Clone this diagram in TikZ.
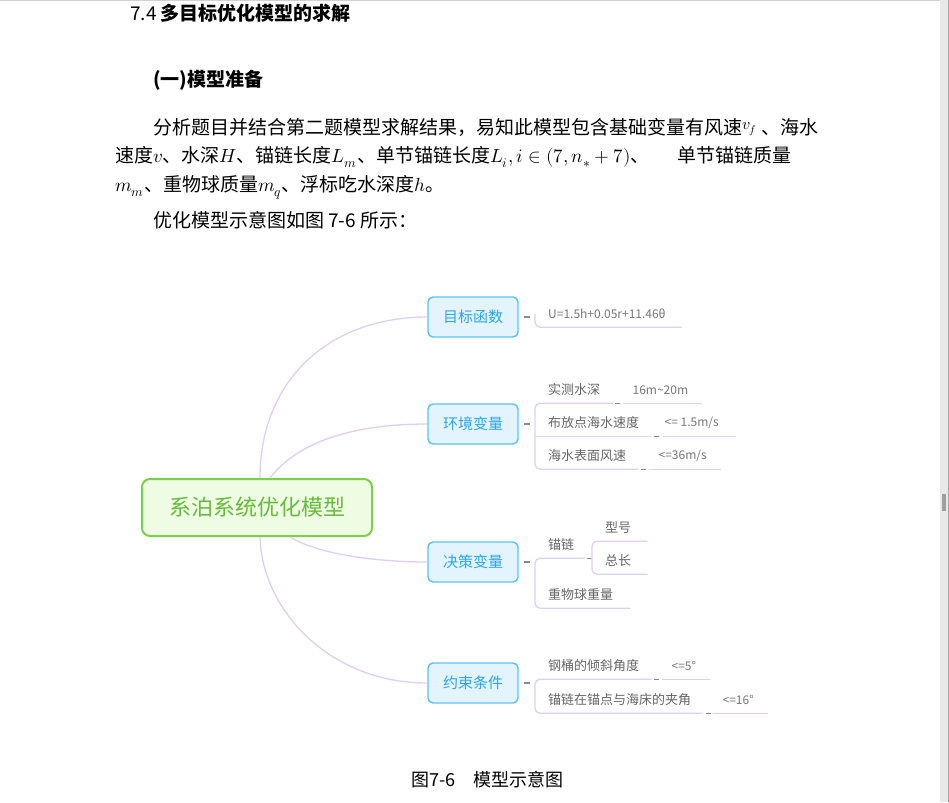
\documentclass[tikz,border=0pt]{standalone}
\usepackage{fontspec}
\usepackage{unicode-math}
\setmainfont{Noto Sans CJK SC}
\setmathfont{Latin Modern Math}
\usetikzlibrary{positioning}

\definecolor{linkpurple}{HTML}{E0CFF2}
\definecolor{branchfill}{HTML}{E3F4FE}
\definecolor{branchdraw}{HTML}{5BC2F9}
\definecolor{branchtext}{HTML}{2BA6EE}
\definecolor{rootfill}{HTML}{EEFCE4}
\definecolor{rootdraw}{HTML}{7AD047}
\definecolor{roottext}{HTML}{66BB3A}
\definecolor{leaftext}{HTML}{666666}
\definecolor{valuetext}{HTML}{777777}
\definecolor{tickgray}{HTML}{8A8A8A}

\begin{document}
\begin{tikzpicture}[x=1pt, y=-1pt,
    root/.style={draw=rootdraw, fill=rootfill, line width=2pt, rounded corners=8pt, minimum width=230pt, minimum height=57pt, text=roottext, font=\fontsize{22}{26}\selectfont},
    branch/.style={draw=branchdraw, fill=branchfill, line width=1.4pt, rounded corners=5pt, minimum width=90pt, minimum height=40pt, text=branchtext, font=\fontsize{15}{18}\selectfont},
    leaf/.style={anchor=west, inner xsep=0pt, inner ysep=0pt, minimum height=26pt, text=leaftext, font=\fontsize{13}{15}\selectfont},
    value/.style={leaf, text=valuetext, font=\fontsize{12}{14}\selectfont},
    link/.style={draw=linkpurple, line width=1.3pt},
    tick/.style={draw=tickgray, line width=1.2pt},
    body/.style={anchor=base west, inner sep=0pt, font=\fontsize{19}{23}\selectfont}
]
    \useasboundingbox (0,0) rectangle (949,802);
    % Page
    \fill[white] (0,0) rectangle (949,802);
    \draw[gray!35, line width=1pt] (0,0.5) -- (940,0.5);
    \fill[gray!18] (940,0) rectangle (948,802);
    \fill[gray!70] (948,0) rectangle (949,802);
    \fill[gray!75] (942,494) rectangle (946,511);

    % Text
    \node[body, font=\fontsize{19}{23}\selectfont\bfseries] (title) at (130,21) {{\mdseries 7.4} 多目标优化模型的求解};
    \node[body, font=\fontsize{19}{23}\selectfont\bfseries] (prep) at (153,87) {(一)模型准备};
    \node[body] (para1) at (153,135) {分析题目并结合第二题模型求解结果，易知此模型包含基础变量有风速\raisebox{5pt}{\fontsize{16}{18}\selectfont$v_f$} 、海水};
    \node[body] (para2) at (115,163) {速度$v$、水深$H$、锚链长度$L_m$、单节锚链长度$L_i,i\in(7,n_*+7)$、\hspace{28pt}单节锚链质量};
    \node[body] (para3) at (115,192) {$m_m$、重物球质量$m_q$、浮标吃水深度$h$。};
    \node[body] (para4) at (153,228) {优化模型示意图如图 7-6 所示：};
    \node[body, font=\fontsize{18}{22}\selectfont] (caption) at (411,786) {图7-6\hspace{18pt}模型示意图};

    % Blocks
    \node[root] (root) at (257,507.5) {系泊系统优化模型};
    \node[branch] (goal) at (473,317) {目标函数};
    \node[branch] (env) at (473,424) {环境变量};
    \node[branch] (dec) at (473,562) {决策变量};
    \node[branch] (cons) at (473,683) {约束条件};

    \node[value] (ufun) at (548,314) {U=1.5h+0.05r+11.46θ};

    \node[leaf] (depth) at (548,390) {实测水深};
    \node[leaf] (sea) at (548,423) {布放点海水速度};
    \node[leaf] (wind) at (548,456) {海水表面风速};
    \node[value, right=32pt of depth] (depthv) {16m\textasciitilde 20m};
    \node[value, right=25pt of sea] (seav) {<= 1.5m/s};
    \node[value, right=32pt of wind] (windv) {<=36m/s};

    \node[leaf] (chain) at (548,545) {锚链};
    \node[leaf] (ball) at (548,595) {重物球重量};
    \node[leaf] (type) at (605,528) {型号};
    \node[leaf] (len) at (605,561) {总长};

    \node[leaf] (tilt) at (548,666) {钢桶的倾斜角度};
    \node[leaf] (angle) at (548,700) {锚链在锚点与海床的夹角};
    \node[value, right=32pt of tilt] (tiltv) {<=5°};
    \node[value, right=31pt of angle] (anglev) {<=16°};

    % Curves from the root
    \draw[link] ([xshift=3pt]root.north) .. controls +(0,-98) and +(-98,0) .. (goal.west);
    \draw[link] ([xshift=13pt]root.north) .. controls +(30,-39) and +(-68,0) .. (env.west);
    \draw[link] ([xshift=33pt]root.south) .. controls +(30,18) and +(-48,0) .. (dec.west);
    \draw[link] ([xshift=3pt]root.south) .. controls +(2,73) and +(-98,0) .. (cons.west);

    % Ticks
    \draw[tick] ([xshift=5pt]goal.east) -- +(6,0);
    \draw[tick] ([xshift=5pt]env.east) -- +(6,0);
    \draw[tick] ([xshift=5pt]dec.east) -- +(6,0);
    \draw[tick] ([xshift=5pt]cons.east) -- +(6,0);
    \draw[tick] ([xshift=15pt]depth.south east) -- +(5,0);
    \draw[tick] ([xshift=15pt]sea.south east) -- +(5,0);
    \draw[tick] ([xshift=15pt]wind.south east) -- +(5,0);
    \draw[tick] ([xshift=13pt]chain.south east) -- +(5,0);
    \draw[tick] ([xshift=15pt]tilt.south east) -- +(5,0);
    \draw[tick] ([xshift=15pt]angle.south east) -- +(5,0);

    % Brackets
    \draw[link, rounded corners=5pt] ([xshift=-13pt]ufun.west) -- ([xshift=-13pt]ufun.south west) -- ([xshift=16pt]ufun.south east);
    \draw[link, rounded corners=5pt] ([xshift=13pt]depth.south east) -- ([xshift=-13pt]depth.south west) -- ([xshift=-13pt]wind.south west) -- ([xshift=12pt]wind.south east);
    \draw[link] ([xshift=-13pt]sea.south west) -- ([xshift=12pt]sea.south east);
    \draw[link, rounded corners=5pt] ([xshift=11pt]chain.south east) -- ([xshift=-13pt]chain.south west) -- ([xshift=-13pt]ball.south west) -- ([xshift=17pt]ball.south east);
    \draw[link, rounded corners=5pt] ([xshift=16pt]type.south east) -- ([xshift=-13pt]type.south west) -- ([xshift=-13pt]len.south west) -- ([xshift=16pt]len.south east);
    \draw[link, rounded corners=5pt] ([xshift=12pt]tilt.south east) -- ([xshift=-13pt]tilt.south west) -- ([xshift=-13pt]angle.south west) -- ([xshift=11pt]angle.south east);

    % Value lines
    \draw[link] ([xshift=-9pt]depthv.south west) -- ([xshift=14pt]depthv.south east);
    \draw[link] ([xshift=-1pt]seav.south west) -- ([xshift=17pt]seav.south east);
    \draw[link] ([xshift=-9pt]windv.south west) -- ([xshift=14pt]windv.south east);
    \draw[link] ([xshift=-9pt]tiltv.south west) -- ([xshift=14pt]tiltv.south east);
    \draw[link] ([xshift=-9pt]anglev.south west) -- ([xshift=14pt]anglev.south east);
\end{tikzpicture}
\end{document}
